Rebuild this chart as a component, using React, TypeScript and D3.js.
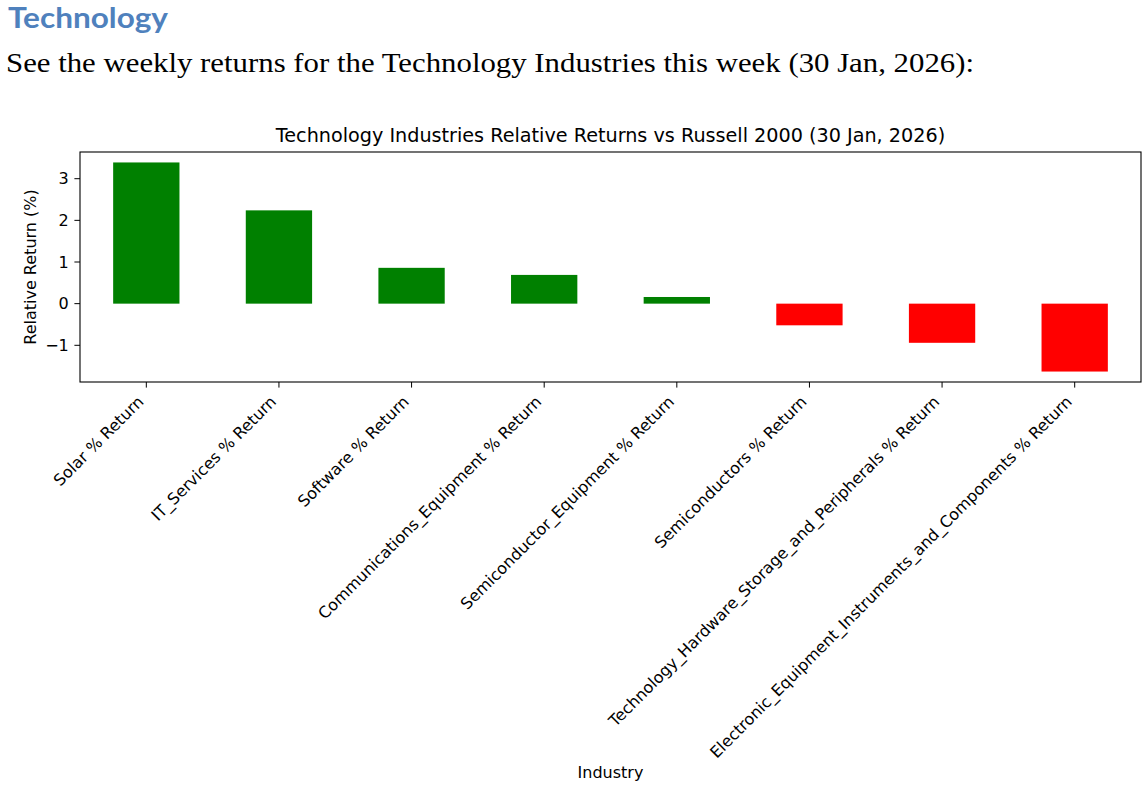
import { useEffect } from 'react'
import * as d3 from 'd3'

const industries = [
  'Solar % Return',
  'IT_Services % Return',
  'Software % Return',
  'Communications_Equipment % Return',
  'Semiconductor_Equipment % Return',
  'Semiconductors % Return',
  'Technology_Hardware_Storage_and_Peripherals % Return',
  'Electronic_Equipment_Instruments_and_Components % Return'
]
const relativeReturns = [3.39, 2.24, 0.86, 0.69, 0.16, -0.52, -0.94, -1.63]
const yTicks = [-1, 0, 1, 2, 3]

const heading = 'Technology'
const intro = 'See the weekly returns for the Technology Industries this week (30 Jan, 2026):'
const chartTitle = 'Technology Industries Relative Returns vs Russell 2000 (30 Jan, 2026)'

export default function App() {
  useEffect(() => {
    document.body.style.margin = '0'
  }, [])

  const width = 1148
  const height = 786
  const plot = { left: 80, right: 1141, top: 152, bottom: 382 }

  // pandas bar plot: xlim -0.5..n-0.5, bar width 0.5
  const x = d3.scaleLinear()
    .domain([-0.5, industries.length - 0.5])
    .range([plot.left, plot.right])
  const barW = x(0.25) - x(-0.25)

  const lo = d3.min(relativeReturns) as number
  const hi = d3.max(relativeReturns) as number
  const pad = (hi - lo) * 0.05
  const y = d3.scaleLinear()
    .domain([lo - pad, hi + pad])
    .range([plot.bottom, plot.top])

  const fmt = (v: number) => (v < 0 ? '\u2212' + Math.abs(v) : String(v))
  const font = 'DejaVu Sans'
  const tickFs = 16
  const tickLen = 5.6
  const c = Math.SQRT1_2

  return (
    <svg width={width} height={height} style={{ display: 'block' }}>
      <rect width={width} height={height} fill="#fff" />
      <text x={8} y={28} fontFamily="Lato, 'Open Sans', sans-serif" fontWeight="bold"
        fontSize={29} fill="#4f81bd" textLength={160} lengthAdjust="spacingAndGlyphs">
        {heading}
      </text>
      <text x={6} y={72} fontFamily="'Liberation Serif', serif" fontSize={28} fill="#000"
        textLength={968} lengthAdjust="spacingAndGlyphs">
        {intro}
      </text>

      <text x={(plot.left + plot.right) / 2} y={142} textAnchor="middle"
        fontFamily={font} fontSize={19.2} fill="#000">
        {chartTitle}
      </text>

      {/* bars */}
      {relativeReturns.map((v, i) => (
        <rect key={industries[i]}
          x={x(i) - barW / 2}
          y={y(Math.max(0, v))}
          width={barW}
          height={Math.abs(y(v) - y(0))}
          fill={v >= 0 ? 'green' : 'red'} />
      ))}

      {/* frame */}
      <rect x={plot.left} y={plot.top} width={plot.right - plot.left} height={plot.bottom - plot.top}
        fill="none" stroke="#000" strokeWidth={1.1} />

      {/* y axis */}
      {yTicks.map(t => (
        <g key={t}>
          <line x1={plot.left - tickLen} x2={plot.left} y1={y(t)} y2={y(t)} stroke="#000" strokeWidth={1} />
          <text x={plot.left - 2 * tickLen} y={y(t)} dy="0.36em" textAnchor="end"
            fontFamily={font} fontSize={tickFs} fill="#000">
            {fmt(t)}
          </text>
        </g>
      ))}
      <text transform={`translate(36,${(plot.top + plot.bottom) / 2}) rotate(-90)`}
        textAnchor="middle" fontFamily={font} fontSize={tickFs} fill="#000">
        Relative Return (%)
      </text>

      {/* x axis */}
      {industries.map((name, i) => {
        const tx = x(i)
        const ax = tx - 0.24 * tickFs * c + 1
        const ay = plot.bottom + 2 * tickLen + 0.93 * tickFs * c - 1
        return (
          <g key={name}>
            <line x1={tx} x2={tx} y1={plot.bottom} y2={plot.bottom + tickLen} stroke="#000" strokeWidth={1} />
            <text transform={`translate(${ax},${ay}) rotate(-45)`} textAnchor="end"
              fontFamily={font} fontSize={tickFs} fill="#000">
              {name}
            </text>
          </g>
        )
      })}
      <text x={(plot.left + plot.right) / 2} y={778} textAnchor="middle"
        fontFamily={font} fontSize={tickFs} fill="#000">
        Industry
      </text>
    </svg>
  )
}
